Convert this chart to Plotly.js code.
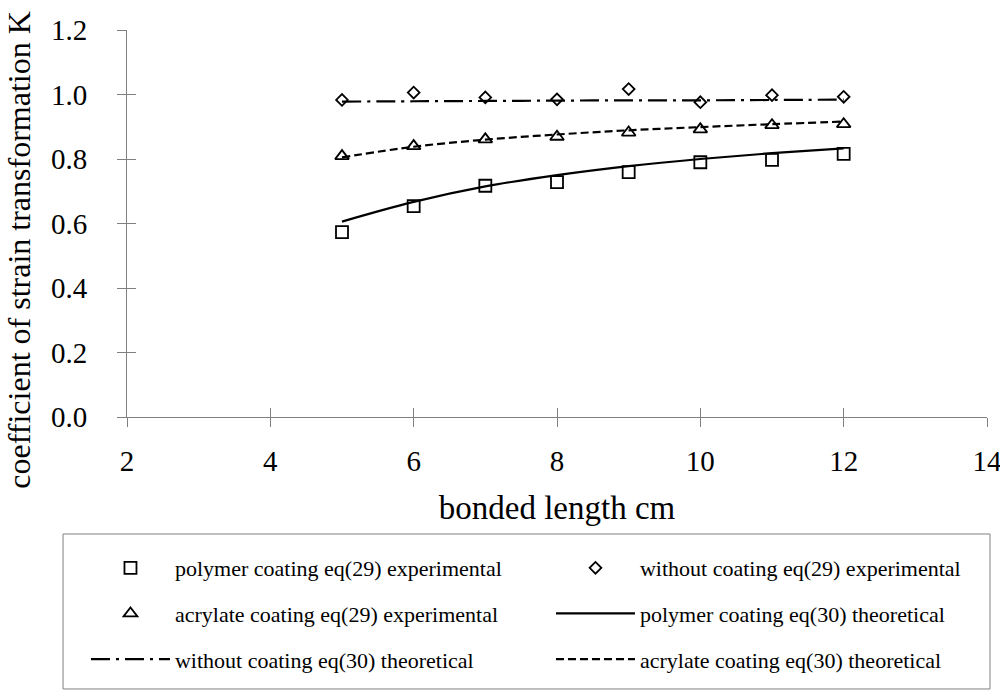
<!DOCTYPE html>
<html>
<head>
<meta charset="utf-8">
<script src="https://cdn.plot.ly/plotly-3.0.1.min.js"></script>
<style>
  html, body { margin: 0; padding: 0; background: #fff; }
  #chart { width: 1000px; height: 691px; }
</style>
</head>
<body>
<div id="chart"></div>
<script>
// bonded length (cm)
var lengths = [5, 6, 7, 8, 9, 10, 11, 12];

// eq(29) experimental points
var polymerExp  = [0.573, 0.654, 0.717, 0.728, 0.759, 0.790, 0.797, 0.816];
var withoutExp  = [0.983, 1.006, 0.991, 0.985, 1.017, 0.976, 0.998, 0.993];
var acrylateExp = [0.809, 0.840, 0.861, 0.869, 0.882, 0.892, 0.905, 0.908];

// eq(30) theoretical curves
var polymerTheo  = [0.606, 0.667, 0.715, 0.750, 0.778, 0.800, 0.818, 0.833];
var withoutTheo  = [0.978, 0.979, 0.980, 0.981, 0.982, 0.982, 0.983, 0.984];
var acrylateTheo = [0.805, 0.838, 0.860, 0.876, 0.889, 0.899, 0.908, 0.916];

var serif = 'Liberation Serif';

function points(name, y, symbol, size, group) {
  return {
    x: lengths, y: y, name: name, legendgroup: group,
    xaxis: 'x2', yaxis: 'y2',
    type: 'scatter', mode: 'markers',
    marker: { symbol: symbol, size: size, color: '#000', line: { color: '#000', width: 1.8 } }
  };
}
function curve(name, y, dash, group) {
  return {
    x: lengths, y: y, name: name, legendgroup: group,
    type: 'scatter', mode: 'lines',
    line: { color: '#000', width: 2.2, dash: dash, shape: 'spline' }
  };
}

var data = [
  points('polymer coating eq(29) experimental', polymerExp, 'square-open', 12, 'g1'),
  points('without coating eq(29) experimental', withoutExp, 'diamond-open', 9, 'g2'),
  points('acrylate coating eq(29) experimental', acrylateExp, 'triangle-up-open', 12, 'g3'),
  curve('polymer coating eq(30) theoretical', polymerTheo, 'solid', 'g4'),
  curve('without coating eq(30) theoretical', withoutTheo, '19px,6px,3px,6px', 'g5'),
  curve('acrylate coating eq(30) theoretical', acrylateTheo, '8px,4px', 'g6')
];

var axisStyle = {
  showgrid: false, zeroline: false,
  showline: true, linecolor: '#808080', linewidth: 1,
  ticks: 'outside', ticklen: 9, tickcolor: '#808080', tickwidth: 1,
  ticklabeloverflow: 'allow',
  tickfont: { family: serif, size: 29, color: '#000' }
};

var layout = {
  width: 1000, height: 691,
  margin: { l: 127, r: 13, t: 30, b: 274, autoexpand: false },
  paper_bgcolor: '#fff', plot_bgcolor: '#fff',
  font: { family: serif, color: '#000' },
  showlegend: true,
  xaxis: Object.assign({}, axisStyle, {
    range: [2, 14], tick0: 2, dtick: 2, ticklabelstandoff: 9,
    title: { text: 'bonded length cm', font: { family: serif, size: 33, color: '#000' }, standoff: 20 }
  }),
  yaxis: Object.assign({}, axisStyle, {
    range: [0, 1.2], tick0: 0, dtick: 0.2, tickformat: '.1f', ticklabelstandoff: 24
  }),
  // overlay axes give the inner half of the crossing tick marks
  xaxis2: {
    overlaying: 'x', anchor: 'y2', range: [2, 14], tick0: 2, dtick: 2,
    ticks: 'inside', ticklen: 9, tickcolor: '#808080', showticklabels: false,
    showline: false, showgrid: false, zeroline: false
  },
  yaxis2: {
    overlaying: 'y', anchor: 'x2', side: 'left', range: [0, 1.2], tick0: 0, dtick: 0.2,
    ticks: 'inside', ticklen: 9, tickcolor: '#808080', showticklabels: false,
    showline: false, showgrid: false, zeroline: false
  },
  // y title sits lower than the plot centre in the original, so it is an annotation
  annotations: [{
    text: 'coefficient of strain transformation K',
    xref: 'paper', yref: 'paper', x: -0.1255, y: 0.43,
    xanchor: 'center', yanchor: 'middle', textangle: -90, showarrow: false,
    font: { family: serif, size: 32, color: '#000' }
  }],
  legend: {
    orientation: 'h', traceorder: 'grouped', tracegroupgap: 14,
    x: -0.0477, xanchor: 'left', y: -0.336, yanchor: 'top',
    entrywidthmode: 'pixels', entrywidth: 371, itemwidth: 79,
    font: { family: serif, size: 22, color: '#000' },
    borderwidth: 0, bgcolor: 'rgba(0,0,0,0)'
  },
  shapes: [{
    type: 'rect', xref: 'paper', yref: 'paper',
    x0: -0.0744, x1: 1.0035, y0: -0.7028, y1: -0.3023,
    line: { color: '#808080', width: 1 }, fillcolor: 'rgba(0,0,0,0)'
  }]
};

Plotly.newPlot('chart', data, layout, { displayModeBar: false, staticPlot: true });
</script>
</body>
</html>
